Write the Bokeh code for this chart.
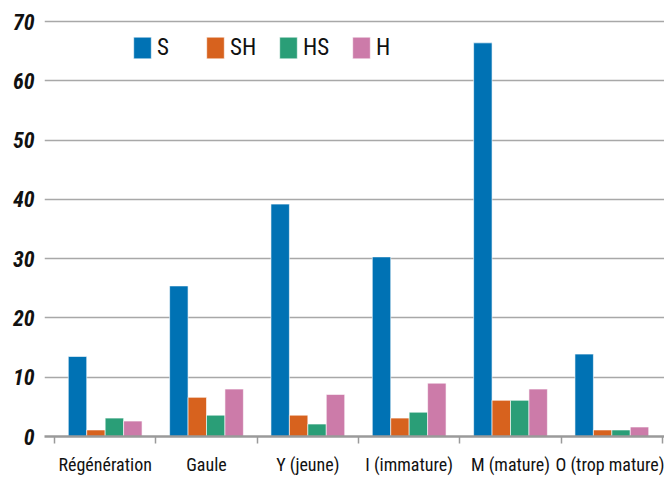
from bokeh.plotting import figure
from bokeh.models import ColumnDataSource, Range1d, FixedTicker, Legend, LegendItem
from bokeh.embed import file_html
from bokeh.resources import INLINE

categories = ["Régénération", "Gaule", "Y (jeune)", "I (immature)", "M (mature)", "O (trop mature)"]
series = ["S", "SH", "HS", "H"]
S = [13.5, 25.4, 39.2, 30.3, 66.4, 13.9]
SH = [1.1, 6.6, 3.6, 3.1, 6.1, 1.1]
HS = [3.1, 3.6, 2.1, 4.1, 6.1, 1.1]
H = [2.6, 8.0, 7.1, 9.0, 8.0, 1.6]
colors = ["#0072B4", "#D7621E", "#2A9E77", "#CC7BA9"]
y_ticks = [0, 10, 20, 30, 40, 50, 60, 70]

FONT = "'Roboto Condensed', 'DejaVu Sans Condensed', Roboto"
bar_w = 0.182

p = figure(width=664, height=477, output_backend="svg", toolbar_location=None,
           x_range=Range1d(-0.0987, 6.0197), y_range=Range1d(0, 71.86),
           min_border_left=44, min_border_right=0, min_border_top=10, min_border_bottom=41)
p.outline_line_color = None

centers = [i + 0.5 for i in range(len(categories))]
renderers = []
for k, (name, vals) in enumerate(zip(series, [S, SH, HS, H])):
    src = ColumnDataSource(dict(x=[c + (k - 1.5) * bar_w for c in centers], top=vals))
    r = p.vbar(x="x", top="top", width=bar_w, bottom=0, source=src,
               fill_color=colors[k], line_color="white", line_width=0.6)
    renderers.append(r)

xt = FixedTicker(ticks=centers, minor_ticks=list(range(len(categories) + 1)))
p.xaxis.ticker = xt
p.xaxis.major_label_overrides = {c: lab for c, lab in zip(centers, categories)}
p.xaxis.major_tick_out = 0
p.xaxis.major_tick_in = 0
p.xaxis.minor_tick_out = 7
p.xaxis.minor_tick_in = 0
p.xaxis.minor_tick_line_color = "#9a9a9a"
p.xaxis.minor_tick_line_width = 1.5
p.xaxis.axis_line_color = "#9a9a9a"
p.xaxis.axis_line_width = 2.5
p.xaxis.major_label_text_font = FONT
p.xaxis.major_label_text_font_size = "18px"
p.xaxis.major_label_text_color = "#111111"
p.xaxis.major_label_standoff = 10

p.yaxis.ticker = FixedTicker(ticks=y_ticks)
p.yaxis.major_tick_out = 0
p.yaxis.major_tick_in = 0
p.yaxis.minor_tick_line_color = None
p.yaxis.axis_line_color = None
p.yaxis.major_label_text_font = FONT
p.yaxis.major_label_text_font_style = "bold italic"
p.yaxis.major_label_text_font_size = "22px"
p.yaxis.major_label_text_color = "#111111"
p.yaxis.major_label_standoff = 10

p.xgrid.grid_line_color = None
p.ygrid.ticker = FixedTicker(ticks=y_ticks)
p.ygrid.grid_line_color = "#a8a8a8"
p.ygrid.grid_line_width = 1.3

legend = Legend(items=[LegendItem(label=n, renderers=[r]) for n, r in zip(series, renderers)],
                orientation="horizontal", location=(87, 375),
                glyph_width=22, glyph_height=27, label_standoff=4, label_width=40, spacing=7,
                padding=0, margin=0, border_line_color=None, background_fill_alpha=0,
                label_text_font=FONT, label_text_font_size="23px", label_text_color="#111111")
p.add_layout(legend, "center")

open("out.html", "w").write(file_html(p, INLINE))
